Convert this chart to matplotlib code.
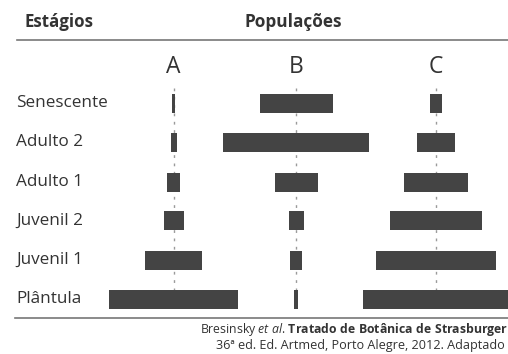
import matplotlib
matplotlib.use("Agg")
import matplotlib.pyplot as plt

stages = ["Senescente", "Adulto 2", "Adulto 1", "Juvenil 2", "Juvenil 1", "Plântula"]
populations = ["A", "B", "C"]
pop_a = [3, 6, 13, 20, 57, 129]
pop_b = [73, 146, 43, 15, 12, 4]
pop_c = [12, 38, 64, 92, 120, 146]

plt.rcParams['font.family'] = ['Open Sans', 'DejaVu Sans']
plt.rcParams['mathtext.fontset'] = 'custom'
plt.rcParams['mathtext.rm'] = 'Open Sans'
plt.rcParams['mathtext.it'] = 'Open Sans:italic'
plt.rcParams['mathtext.bf'] = 'Open Sans:bold'

W, H = 508, 354
fig = plt.figure(figsize=(W / 100, H / 100), dpi=100)
ax = fig.add_axes([0, 0, 1, 1])
ax.set_xlim(0, W)
ax.set_ylim(H, 0)
ax.axis("off")

centers = [173.5, 296, 436]
row_y = [103, 142.5, 182, 220.5, 260, 299]
bar_h = 19
bar_color = "#444444"
text_color = "#333333"

for cx, vals in zip(centers, [pop_a, pop_b, pop_c]):
    ax.plot([cx, cx], [88, 312], color="#9a9a9a", lw=1.0, ls=(0, (2, 4)), zorder=1)
    lefts = [cx - v / 2 for v in vals]
    ax.barh(row_y, vals, left=lefts, height=bar_h, color=bar_color, zorder=2)

for y, s in zip(row_y, stages):
    ax.text(16, y, s, fontsize=12.3, color=text_color, va="center", ha="left")

for cx, p in zip(centers, populations):
    ax.text(cx, 67, p, fontsize=16.5, color=text_color, va="center", ha="center")

ax.text(24, 22, "Estágios", fontsize=12.2, fontweight="bold", color=text_color, va="center", ha="left")
ax.text(293, 22, "Populações", fontsize=12.4, fontweight="bold", color=text_color, va="center", ha="center")

ax.plot([17, 508], [40, 40], color="#777777", lw=1.2)
ax.plot([15, 508], [318, 318], color="#777777", lw=1.2)

ax.text(508, 330, r"Bresinsky $\mathit{et\ al}$. $\mathbf{Tratado\ de\ Botânica\ de\ Strasburger}$",
        fontsize=8.8, color=text_color, va="center", ha="right")
ax.text(505, 346, "36ª ed. Ed. Artmed, Porto Alegre, 2012. Adaptado",
        fontsize=9.1, color=text_color, va="center", ha="right")

fig.savefig("out.png", dpi=100)
